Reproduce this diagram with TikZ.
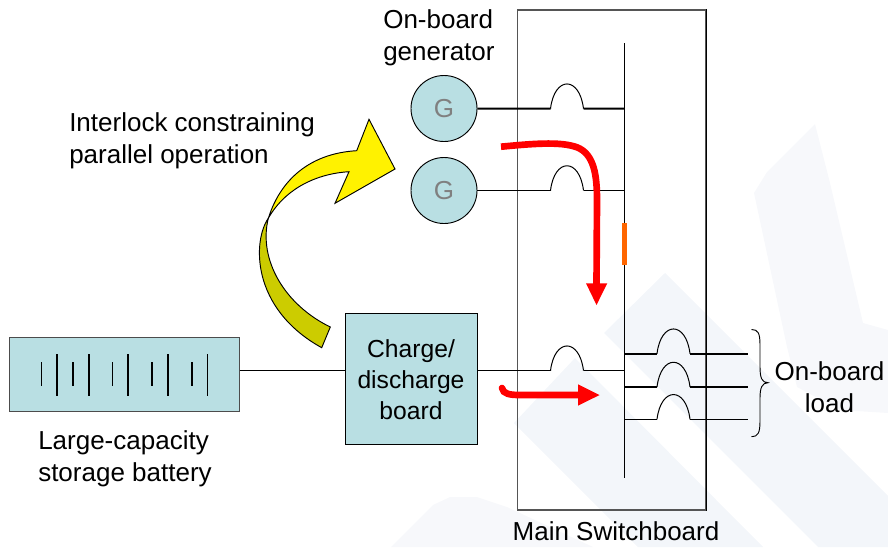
\documentclass[tikz,border=0pt]{standalone}
\usepackage{fontspec}
\setmainfont{Liberation Sans}
\definecolor{boxfill}{HTML}{B9DFE3}
\definecolor{wm}{HTML}{F3F6FA}
\definecolor{wmfaint}{HTML}{F7F8FB}
\definecolor{swframe}{HTML}{555555}
\definecolor{darkyellow}{HTML}{CCCC00}
\definecolor{busmark}{HTML}{FF6600}
\tikzset{
  px/.style={x=0.75pt,y=-0.75pt},
  lbl/.style={inner sep=0pt,font=\fontsize{19.5}{24}\selectfont},
  boxlbl/.style={inner sep=0pt,font=\fontsize{18.5}{23.5}\selectfont},
  box/.style={draw=black,line width=0.7pt,fill=boxfill,inner sep=0pt},
  gen/.style={box,circle,minimum size=49.5pt,text=gray,font=\fontsize{19.5}{22}\selectfont},
  thin wire/.style={line width=0.75pt},
  thick wire/.style={line width=1.5pt},
  hump/.style={line width=0.75pt},
  flow/.style={red,line width=5pt},
}
\newcommand{\hump}[2]{\draw[hump] (#1) .. controls +(4,-33) and +(-4,-33) .. (#2);}
\begin{document}
\begin{tikzpicture}[px]
\useasboundingbox (0,0) rectangle (888,547);
% watermark
\fill[wmfaint] (815,124) -- (767,172) -- (754,193) -- (787,347) -- (797,387) -- (840,410) -- (888,413) -- (888,330) -- (863,323) -- (830,183) -- cycle;
\fill[wm] (604,333) -- (665,273) -- (888,496) -- (888,547) -- (818,547) -- cycle;
\fill[wm] (514,423) -- (575,358) -- (763,547) -- (638,547) -- cycle;
\fill[wmfaint] (391,547) -- (433,505) -- (450,497) -- (477,497) -- (507,507) -- (593,547) -- cycle;
% switchboard frame
\node[draw=swframe,line width=1pt,minimum width=141pt,minimum height=375pt,inner sep=0pt] (board) at (611.75,260) {};
\draw[black,line width=0.8pt] (board.north east) -- (board.south east);
% bus
\coordinate (bustop) at (624,43);
\coordinate (busbot) at (624,478);
\draw[line width=0.65pt] (bustop) -- (busbot);
\fill[busmark] (621.7,223) rectangle (627,265);
% generators
\node[gen] (g1) at (444,108.5) {G};
\node[gen] (g2) at (444,190.5) {G};
% battery and charge board
\node[box,draw=black!70,minimum width=172.5pt,minimum height=55.2pt] (batt) at (124.5,374.7) {};
\node[box,minimum width=99pt,minimum height=98.25pt] (charge) at (411,378.5) {};
\node[boxlbl,align=center,anchor=north] (chargetxt) at (411,339) {Charge/\\discharge\\board};
% battery cells
\foreach \x/\w in {41.3/0.8,73/1.6,112.3/0.7,152/1.6,192/1.6}
  \draw[line width=\w pt] (\x,362) -- (\x,385.7);
\foreach \x/\w in {57/1.6,89/1.6,128/1.6,168/1.6,207.3/1}
  \draw[line width=\w pt] (\x,354) -- (\x,396);
% breakers
\coordinate (a1) at (550.5,108.7); \coordinate (b1) at (583.5,108.7); \coordinate (e1) at (624,108.7);
\coordinate (a2) at (550.5,190.5); \coordinate (b2) at (583.5,190.5); \coordinate (e2) at (624,190.5);
\coordinate (a3) at (550.5,370.7); \coordinate (b3) at (583.5,370.7); \coordinate (e3) at (624,370.7);
\draw[thick wire] (g1.east) -- (a1) (b1) -- (e1);
\hump{a1}{b1}
\draw[thin wire] (g2.east) -- (a2) (b2) -- (e2);
\hump{a2}{b2}
\draw[thin wire] (charge.east|-a3) -- (a3) (b3) -- (e3);
\hump{a3}{b3}
\draw[thin wire] (batt.east|-a3) -- (charge.west|-a3);
% loads
\coordinate (l1s) at (624,353.7); \coordinate (l1a) at (657,353.7); \coordinate (l1b) at (690,353.7); \coordinate (l1e) at (748,353.7);
\coordinate (l2s) at (624,387); \coordinate (l2a) at (657,387); \coordinate (l2b) at (690,387); \coordinate (l2e) at (748,387);
\coordinate (l3s) at (624,419.3); \coordinate (l3a) at (657,419.3); \coordinate (l3b) at (690,419.3); \coordinate (l3e) at (748,419.3);
\draw[thick wire] (l1s) -- (l1a) (l1b) -- (l1e) (l2s) -- (l2a) (l2b) -- (l2e);
\draw[thin wire] (l3s) -- (l3a) (l3b) -- (l3e);
\hump{l1a}{l1b}
\hump{l2a}{l2b}
\hump{l3a}{l3b}
% brace
\draw[line width=0.7pt] (751.5,329.5) .. controls (758,329.5) and (760,333) .. (760,345) -- (760,367) .. controls (760,378) and (762,382.7) .. (768,382.7) .. controls (762,382.7) and (760,388) .. (760,398) -- (760,421) .. controls (760,433) and (758,436.7) .. (751.5,436.7);
% interlock arrow
\filldraw[fill=darkyellow,draw=black,line width=0.7pt,line join=miter] (268.3,218.3) .. controls (253,240) and (250,308) .. (321.7,347.7) -- (330.3,327) .. controls (285,305) and (258,260) .. (268.3,218.3) -- cycle;
\filldraw[fill=yellow,draw=black,line width=0.7pt,line join=miter] (268.3,218.3) .. controls (282,175) and (315,153) .. (356.7,150.7) -- (369,119.3) -- (395,169) -- (335,203.3) -- (349,171.7) .. controls (312,174) and (283,192) .. (268.3,218.3) -- cycle;
% red flow arrows
\draw[flow] (501,146.7) .. controls (530,144) and (560,141) .. (577,147.3) .. controls (594,154) and (597,175) .. (597,200) -- (596.5,285);
\fill[red] (586,283.3) -- (607.3,283.3) -- (596.5,305) -- cycle;
\draw[flow,line cap=round] (502,388) .. controls (503,394) and (510,395) .. (520,395) -- (579,395);
\fill[red] (578,384.3) -- (578,405.7) -- (599.5,395) -- cycle;
% labels
\node[lbl,align=left,anchor=north west] (gentxt) at (383,9.5) {On-board\\generator};
\node[lbl,align=left,anchor=north west] (lock) at (69,112) {Interlock constraining\\parallel operation};
\node[lbl,align=left,anchor=north west] (batttxt) at (38,430) {Large-capacity\\storage battery};
\node[lbl,align=center,anchor=north] (loadtxt) at (829.5,361) {On-board\\load};
\node[lbl,anchor=north] (boardtxt) at (616,521) {Main Switchboard};
\end{tikzpicture}
\end{document}
